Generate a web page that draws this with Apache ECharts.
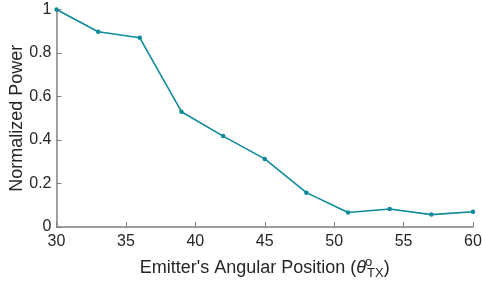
<!DOCTYPE html>
<html>
<head>
<meta charset="utf-8">
<script src="https://cdn.jsdelivr.net/npm/echarts@6/dist/echarts.min.js"></script>
<style>html,body{margin:0;padding:0;background:#fff}#c{width:482px;height:289px}</style>
</head>
<body>
<div id="c"></div>
<script>
var angles = [30, 33, 36, 39, 42, 45, 48, 51, 54, 57, 60];
var power = [1.0, 0.898, 0.870, 0.530, 0.418, 0.313, 0.158, 0.067, 0.083, 0.057, 0.070];
var xTicks = [30, 35, 40, 45, 50, 55, 60];
var yTicks = [0, 0.2, 0.4, 0.6, 0.8, 1];

var chart = echarts.init(document.getElementById('c'));
var font = 'Liberation Sans, Arial, Helvetica, sans-serif';
var axisColor = '#7f7f7f';
var txt = '#262626';
chart.setOption({
  animation: false,
  grid: {left: 56.5, right: 9, top: 9.5, bottom: 62, outerBoundsMode: 'none', containLabel: false},
  xAxis: {
    type: 'value', min: 30, max: 60, interval: 5,
    axisLine: {show: true, lineStyle: {color: axisColor, width: 1.5}},
    axisTick: {show: true, inside: true, length: 5, lineStyle: {color: axisColor}},
    axisLabel: {color: txt, fontSize: 16, fontFamily: font, margin: 7,
      formatter: function (v) { return xTicks.indexOf(v) >= 0 ? String(v) : ''; }},
    splitLine: {show: false},
    name: "{base|Emitter's Angular Position (}{it|θ}{sub|TX}{base|)}",
    nameLocation: 'middle', nameGap: 30, nameMoveOverlap: false,
    nameTextStyle: {color: txt, fontSize: 18, fontFamily: font,
      rich: {
        base: {fontSize: 18, fontFamily: font, color: txt, verticalAlign: 'top', padding: [2, 0, 0, 0]},
        it: {fontSize: 18, fontFamily: font, fontStyle: 'italic', color: txt, verticalAlign: 'top', padding: [2, 1, 0, 0]},
        sub: {fontSize: 13, fontFamily: font, color: txt, verticalAlign: 'top', padding: [10, 0, 0, 0]}
      }}
  },
  yAxis: {
    type: 'value', min: 0, max: 1, interval: 0.2,
    axisLine: {show: true, lineStyle: {color: axisColor, width: 1.5}},
    axisTick: {show: true, inside: true, length: 5, lineStyle: {color: axisColor}},
    axisLabel: {color: txt, fontSize: 16, fontFamily: font, margin: 5,
      formatter: function (v) { return yTicks.indexOf(Math.round(v * 10) / 10) >= 0 ? String(Math.round(v * 10) / 10) : ''; }},
    splitLine: {show: false},
    name: 'Normalized Power', nameLocation: 'middle', nameGap: 30, nameMoveOverlap: false,
    nameTextStyle: {color: txt, fontSize: 18, fontFamily: font}
  },
  graphic: [{
    type: 'text', left: 365, top: 256,
    style: {text: 'o', fontSize: 13, fontFamily: font, fill: txt}
  }],
  series: [{
    type: 'line',
    data: angles.map(function (a, i) { return [a, power[i]]; }),
    symbol: 'circle', symbolSize: 4.5,
    lineStyle: {color: '#0d8a9b', width: 1.6},
    itemStyle: {color: '#0d8a9b'}
  }]
});
</script>
</body>
</html>
